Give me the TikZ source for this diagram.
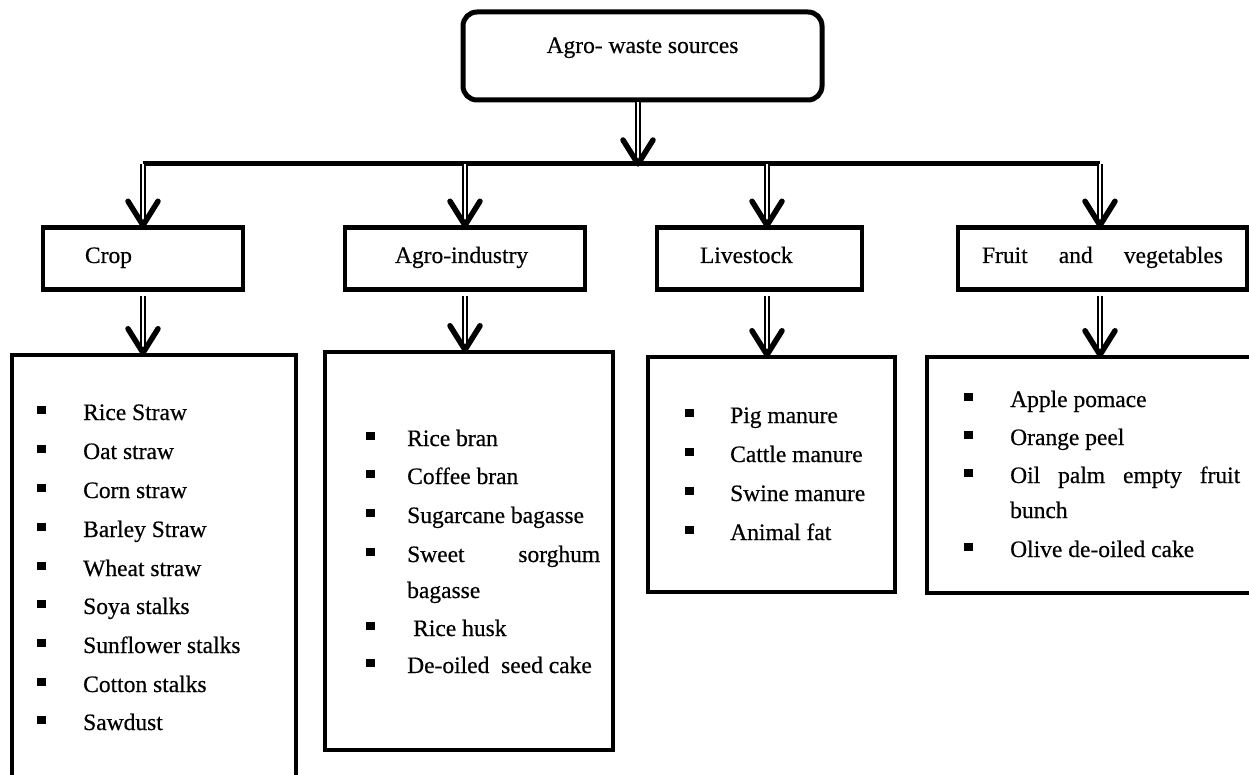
\documentclass[tikz,border=0pt]{standalone}
\usepackage{fontspec}
\setmainfont{Liberation Serif}[FakeBold=0.5]
\usetikzlibrary{calc}
\newcommand{\bul}{\rule[6pt]{8.5pt}{8.5pt}}
\newcommand{\itm}[2]{\makebox[#1][l]{\bul}#2}
\tikzset{
  vtip/.pic={\draw[line width=5.5pt, line cap=round, line join=round] (-15,-24) -- (0,0) -- (15,-24);},
}
\begin{document}
\begin{tikzpicture}[x=1pt,y=-1pt,
  every node/.style={font=\fontsize{23.5}{28}\selectfont, inner sep=0pt},
  topbox/.style={draw, line width=5pt, rounded corners=14pt, minimum width=359pt, minimum height=88pt, text height=17pt, text depth=23pt},
  catbox/.style={draw, line width=4.5pt, minimum height=62pt, text height=16pt, text depth=7pt},
  listbox/.style={draw, line width=4.5pt},
  itemtxt/.style={anchor=base west},
  stemline/.style={draw, line width=2.5pt, double=white, double distance=1.8pt},
  barline/.style={line width=5pt},
]
\useasboundingbox (0,0) rectangle (1249,775);
\clip (0,0) rectangle (1249,775);

% top
\node[topbox] (top) at (642.5,56) {Agro- waste sources};

% categories
\node[catbox, minimum width=200pt] (crop) at (143,258.5) {\makebox[200pt][l]{\hspace{42pt}Crop}};
\node[catbox, minimum width=240pt] (agro) at (465,258.5) {\makebox[240pt][l]{\hspace{50pt}Agro-industry}};
\node[catbox, minimum width=205pt] (live) at (759.5,258.5) {\makebox[205pt][l]{\hspace{43pt}Livestock}};
\node[catbox, minimum width=289pt] (fruit) at (1102.5,258.5) {\makebox[289pt][l]{\hspace{24pt}\makebox[241pt]{Fruit\hfill and\hfill vegetables}}};

% list boxes
\node[listbox, minimum width=284pt, minimum height=445pt] (cropL) at (154,577.5) {};
\node[listbox, minimum width=288pt, minimum height=398pt] (agroL) at (469,551) {};
\node[listbox, minimum width=247pt, minimum height=235pt] (liveL) at (771.5,474.5) {};
\node[listbox, minimum width=333pt, minimum height=236pt] (fruitL) at (1093.5,475) {};

% connectors
\coordinate (b0) at (638,164);
\coordinate (dC) at (143,164);
\coordinate (dA) at (465,164);
\coordinate (dL) at (767,164);
\coordinate (dF) at (1100,164);
\draw[barline] (dC) -- (dF);
\draw[stemline, shorten >=5pt] (top.south -| b0) -- (b0);
\pic at (b0) {vtip};
\foreach \d/\c in {dC/crop, dA/agro, dL/live, dF/fruit}{
  \draw[stemline, shorten >=5pt] (\d) -- (\d |- \c.north);
  \pic at (\d |- \c.north) {vtip};
}
\foreach \d/\c/\l in {dC/crop/cropL, dA/agro/agroL, dL/live/liveL, dF/fruit/fruitL}{
  \draw[stemline, shorten <=4pt, shorten >=5pt] (\d |- \c.south) -- (\d |- \l.north);
  \pic at (\d |- \l.north) {vtip};
}

% crop items
\node[itemtxt] (c1) at (37,420) {\itm{46pt}{Rice Straw}};
\node[itemtxt] (c2) at (37,459) {\itm{46pt}{Oat straw}};
\node[itemtxt] (c3) at (37,498) {\itm{46pt}{Corn straw}};
\node[itemtxt] (c4) at (37,537) {\itm{46pt}{Barley Straw}};
\node[itemtxt] (c5) at (37,576) {\itm{46pt}{Wheat straw}};
\node[itemtxt] (c6) at (37,614) {\itm{46pt}{Soya stalks}};
\node[itemtxt] (c7) at (37,653) {\itm{46pt}{Sunflower stalks}};
\node[itemtxt] (c8) at (37,692) {\itm{46pt}{Cotton stalks}};
\node[itemtxt] (c9) at (37,730) {\itm{46pt}{Sawdust}};

% agro items
\node[itemtxt] (a1) at (366,446) {\itm{41pt}{Rice bran}};
\node[itemtxt] (a2) at (366,484) {\itm{41pt}{Coffee bran}};
\node[itemtxt] (a3) at (366,523) {\itm{41pt}{Sugarcane bagasse}};
\node[itemtxt] (a4) at (366,562) {\itm{41pt}{\makebox[193pt]{Sweet\hfill sorghum}}};
\node[itemtxt] (a4b) at (407,598) {bagasse};
\node[itemtxt] (a5) at (366,636) {\itm{41pt}{\hspace{6pt}Rice husk}};
\node[itemtxt] (a6) at (366,673) {\itm{41pt}{De-oiled~ seed cake}};

% livestock items
\node[itemtxt] (l1) at (685,423) {\itm{45pt}{Pig manure}};
\node[itemtxt] (l2) at (685,462) {\itm{45pt}{Cattle manure}};
\node[itemtxt] (l3) at (685,501) {\itm{45pt}{Swine manure}};
\node[itemtxt] (l4) at (685,540) {\itm{45pt}{Animal fat}};

% fruit items
\node[itemtxt] (f1) at (964,407) {\itm{46pt}{Apple pomace}};
\node[itemtxt] (f2) at (964,445) {\itm{46pt}{Orange peel}};
\node[itemtxt] (f3) at (964,483) {\itm{46pt}{\makebox[230pt]{Oil\hfill palm\hfill empty\hfill fruit}}};
\node[itemtxt] (f3b) at (1010,518) {bunch};
\node[itemtxt] (f4) at (964,557) {\itm{46pt}{Olive de-oiled cake}};
\end{tikzpicture}
\end{document}
